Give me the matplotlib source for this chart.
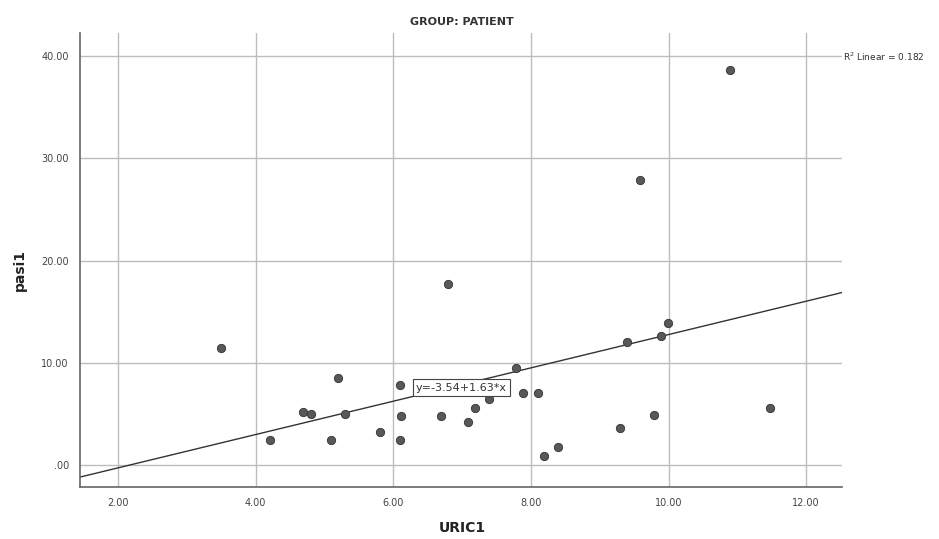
import matplotlib
matplotlib.use("Agg")
import matplotlib.pyplot as plt
import numpy as np

uric1 = [10.89, 9.59, 3.50, 6.80, 5.20, 6.10, 4.69, 4.80, 5.30, 6.11, 6.69, 7.08,
         4.21, 5.09, 5.80, 6.10, 9.99, 9.89, 9.39, 7.79, 7.89, 8.10, 7.19, 7.39,
         9.79, 9.29, 8.39, 8.19, 11.48]
pasi1 = [38.6, 27.9, 11.4, 17.7, 8.5, 7.8, 5.2, 5.0, 5.0, 4.8, 4.8, 4.2,
         2.4, 2.4, 3.2, 2.4, 13.9, 12.6, 12.0, 9.5, 7.0, 7.0, 5.6, 6.5,
         4.9, 3.6, 1.8, 0.85, 5.6]
intercept = -3.54
slope = 1.63
r2_text = "R$^2$ Linear = 0.182"
eq_text = "y=-3.54+1.63*x"
xticks = [2, 4, 6, 8, 10, 12]
xticklabels = ["2.00", "4.00", "6.00", "8.00", "10.00", "12.00"]
yticks = [0, 10, 20, 30, 40]
yticklabels = [".00", "10.00", "20.00", "30.00", "40.00"]

fig = plt.figure(figsize=(9.39, 5.39), dpi=100)
ax = fig.add_axes([80/939, 52/539, 762/939, 454/539])
xlim = (1.448, 12.52)
ylim = (-2.15, 42.25)
ax.set_xlim(*xlim)
ax.set_ylim(*ylim)

ax.set_xticks(xticks)
ax.set_xticklabels(xticklabels)
ax.set_yticks(yticks)
ax.set_yticklabels(yticklabels)
ax.tick_params(length=0, labelsize=7, colors="#444444", pad=8)
ax.grid(True, color="#bdbdbd", lw=1)
ax.set_axisbelow(True)
for s in ["top", "right"]:
    ax.spines[s].set_visible(False)
for s in ["left", "bottom"]:
    ax.spines[s].set_color("#666666")
    ax.spines[s].set_linewidth(1.2)

lx = np.array(xlim)
ax.plot(lx, intercept + slope * lx, color="#333333", lw=1, zorder=2)
ax.scatter(uric1, pasi1, s=36, color="#585858", edgecolor="#333333", linewidths=0.6, zorder=3)

ax.text(6.33, 7.55, eq_text, fontsize=8, color="#333333", va="center", ha="left",
        bbox=dict(boxstyle="square,pad=0.3", fc="white", ec="#444444", lw=0.8), zorder=4)

fig.text(462/939, 1 - 22/539, "GROUP: PATIENT", fontsize=8, fontweight="bold",
         color="#333333", ha="center", va="center")
fig.text(843/939, 1 - 57/539, r2_text, fontsize=6.5, color="#333333", ha="left", va="center")
fig.text(462/939, 1 - 528/539, "URIC1", fontsize=10, fontweight="bold", color="#222222",
         ha="center", va="center")
fig.text(20/939, 1 - 270/539, "pasi1", fontsize=10, fontweight="bold", color="#222222",
         ha="center", va="center", rotation=90)

fig.savefig("out.png", dpi=100)
